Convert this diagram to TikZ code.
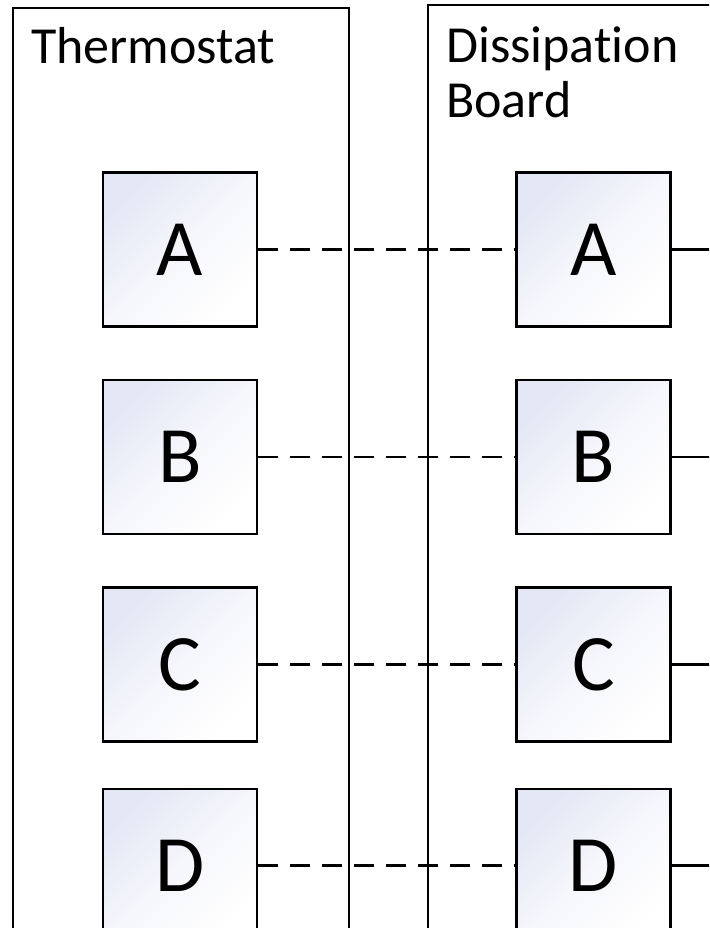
\documentclass[tikz,border=0pt]{standalone}
\usepackage{fontspec}
\setmainfont[Ligatures=NoCommon]{Carlito}
\usetikzlibrary{positioning}
\definecolor{pinlav}{HTML}{E4E7F5}
\tikzset{
    every node/.style={font=\fontsize{52}{55}\selectfont},
    unit/.style={draw,line width=1.8pt,anchor=north west,inner sep=0pt,minimum height=1000pt},
    unittitle/.style={anchor=base west,inner sep=0pt,align=left},
    pin/.style={draw,line width=2.2pt,top color=pinlav,bottom color=white,middle color=pinlav!35!white,
        shading angle=45,minimum width=154pt,minimum height=154pt,inner sep=0pt,
        font=\fontsize{80}{80}\selectfont},
    wire/.style={line width=2.4pt,dash pattern=on 20pt off 12pt},
    lead/.style={line width=2.4pt}
}
\begin{document}
\begin{tikzpicture}[x=1pt,y=-1pt]
\useasboundingbox (0,0) rectangle (709,928);
\clip (0,0) rectangle (709,928);
% units
\node[unit,minimum width=336pt] (thermo) at (12,7) {};
\node[unit,minimum width=400pt] (diss) at (427,4) {};
\node[unittitle] (thermotitle) at (31,64) {Thermostat};
\node[unittitle] (disstitle) at (446,118) {Dissipation\\Board};
% pins
\node[pin] (tA) at (180,249.5) {A};
\node[pin,below=51.5pt of tA] (tB) {B};
\node[pin,below=51pt of tB] (tC) {C};
\node[pin,below=45pt of tC] (tD) {D};
\foreach \p in {A,B,C,D}{
    \node[pin] (d\p) at (593.5,0 |- t\p) {\p};
    \coordinate (out\p) at ([xshift=60pt]d\p.east);
    \draw[wire] (t\p) -- (d\p);
    \draw[lead] (d\p) -- (out\p);
}
\end{tikzpicture}
\end{document}
